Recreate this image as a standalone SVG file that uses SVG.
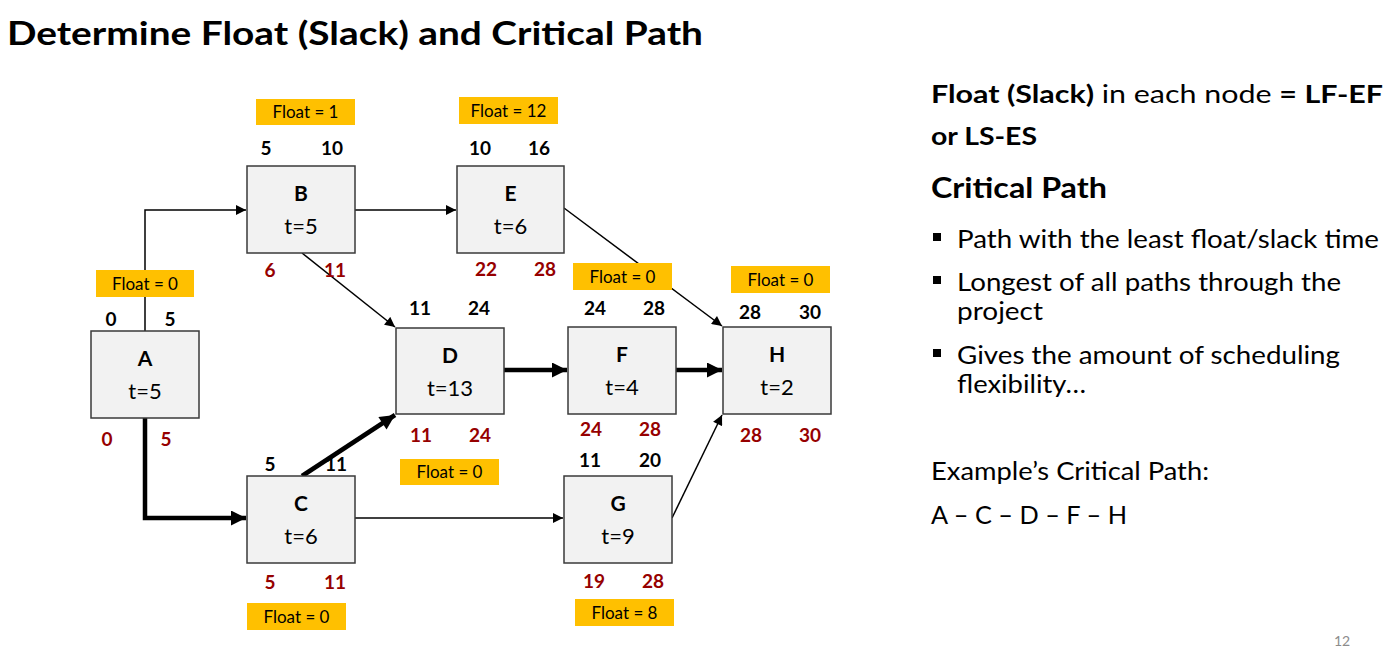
<svg xmlns="http://www.w3.org/2000/svg" width="1395" height="648" viewBox="0 0 1395 648">
<defs>
<marker id="ah" viewBox="0 0 10 10" refX="10" refY="5" markerWidth="11" markerHeight="10" markerUnits="userSpaceOnUse" orient="auto"><path d="M0,0 L10,5 L0,10 z" fill="#000"/></marker>
<marker id="ahb" viewBox="0 0 10 10" refX="10" refY="5" markerWidth="17" markerHeight="15" markerUnits="userSpaceOnUse" orient="auto"><path d="M0,0 L10,5 L0,10 z" fill="#000"/></marker>
</defs>
<style>
text{font-family:Lato,"Liberation Sans",sans-serif}
.box{fill:#f2f2f2;stroke:#3a3a3a;stroke-width:1.5}
.nm{font-size:21px;font-weight:bold;text-anchor:middle;fill:#000}
.t{font-size:22px;text-anchor:middle;fill:#000}
.es{font-size:19px;font-weight:bold;text-anchor:middle;fill:#000}
.lf{font-size:19px;font-weight:bold;text-anchor:middle;fill:#960000}
.fl{fill:#ffc000}
.flt{font-size:17px;text-anchor:middle;fill:#000}
.thin{stroke:#000;stroke-width:1.5;fill:none;marker-end:url(#ah)}
.thick{stroke:#000;stroke-width:4.5;fill:none;marker-end:url(#ahb)}
.rt{font-size:25px;fill:#000}
</style>
<rect width="1395" height="648" fill="#fff"/>
<text x="7" y="45" font-size="32" font-weight="bold" textLength="696" lengthAdjust="spacingAndGlyphs">Determine Float (Slack) and Critical Path</text>

<g id="connectors">
<path class="thin" d="M145,331 V210 H246"/>
<path class="thin" d="M355,210 H456"/>
<path class="thin" d="M302,253 L395,327"/>
<path class="thin" d="M564,208 L722,326"/>
<path class="thick" d="M145,417 V518 H246"/>
<path class="thick" d="M302,476 L395,415"/>
<path class="thick" d="M504,370 H567"/>
<path class="thick" d="M676,370 H722"/>
<path class="thin" d="M355,518 H563"/>
<path class="thin" d="M672,518 L722,415"/>
</g>

<g id="node-A">
<rect class="fl" x="96" y="270" width="98" height="27"/><text class="flt" x="145" y="290">Float = 0</text>
<rect class="box" x="91" y="331" width="108" height="87"/>
<text class="nm" x="145" y="366">A</text><text class="t" x="145" y="399">t=5</text>
<text class="es" x="111" y="326">0</text><text class="es" x="170" y="326">5</text>
<text class="lf" x="107" y="446">0</text><text class="lf" x="166" y="446">5</text>
</g>
<g id="node-B">
<rect class="fl" x="256" y="99" width="99" height="26"/><text class="flt" x="305.5" y="118">Float = 1</text>
<rect class="box" x="247" y="166" width="108" height="87"/>
<text class="nm" x="301" y="201">B</text><text class="t" x="301" y="234">t=5</text>
<text class="es" x="266" y="155">5</text><text class="es" x="332" y="155">10</text>
<text class="lf" x="270" y="277">6</text><text class="lf" x="335" y="277">11</text>
</g>
<g id="node-E">
<rect class="fl" x="459" y="97" width="99" height="27"/><text class="flt" x="508.5" y="117">Float = 12</text>
<rect class="box" x="457" y="166" width="107" height="87"/>
<text class="nm" x="510.5" y="201">E</text><text class="t" x="510.5" y="234">t=6</text>
<text class="es" x="480" y="155">10</text><text class="es" x="539" y="155">16</text>
<text class="lf" x="486" y="276">22</text><text class="lf" x="545" y="276">28</text>
</g>
<g id="node-D">
<rect class="box" x="396" y="328" width="108" height="86"/>
<text class="nm" x="450" y="363">D</text><text class="t" x="450" y="396">t=13</text>
<text class="es" x="420" y="315">11</text><text class="es" x="479" y="315">24</text>
<text class="lf" x="421" y="442">11</text><text class="lf" x="480" y="442">24</text>
<rect class="fl" x="400" y="459" width="99" height="26"/><text class="flt" x="449.5" y="478">Float = 0</text>
</g>
<g id="node-F">
<rect class="fl" x="573" y="263" width="99" height="27"/><text class="flt" x="622.5" y="283">Float = 0</text>
<rect class="box" x="568" y="327" width="108" height="87"/>
<text class="nm" x="622" y="362">F</text><text class="t" x="622" y="395">t=4</text>
<text class="es" x="595" y="315">24</text><text class="es" x="654" y="315">28</text>
<text class="lf" x="591" y="436">24</text><text class="lf" x="650" y="436">28</text>
</g>
<g id="node-H">
<rect class="fl" x="731" y="266" width="99" height="27"/><text class="flt" x="780.5" y="286">Float = 0</text>
<rect class="box" x="723" y="327" width="108" height="87"/>
<text class="nm" x="777" y="362">H</text><text class="t" x="777" y="395">t=2</text>
<text class="es" x="750" y="319">28</text><text class="es" x="810" y="319">30</text>
<text class="lf" x="751" y="442">28</text><text class="lf" x="810" y="442">30</text>
</g>
<g id="node-C">
<rect class="box" x="247" y="476" width="108" height="87"/>
<text class="nm" x="301" y="511">C</text><text class="t" x="301" y="544">t=6</text>
<text class="es" x="270" y="471">5</text><text class="es" x="336" y="471">11</text>
<text class="lf" x="270" y="589">5</text><text class="lf" x="335" y="589">11</text>
<rect class="fl" x="247" y="603" width="99" height="27"/><text class="flt" x="296.5" y="623">Float = 0</text>
</g>
<g id="node-G">
<rect class="box" x="564" y="476" width="108" height="87"/>
<text class="nm" x="618" y="511">G</text><text class="t" x="618" y="544">t=9</text>
<text class="es" x="590" y="467">11</text><text class="es" x="650" y="467">20</text>
<text class="lf" x="594" y="588">19</text><text class="lf" x="653" y="588">28</text>
<rect class="fl" x="575" y="599" width="99" height="27"/><text class="flt" x="624.5" y="619">Float = 8</text>
</g>

<g id="notes">
<text class="rt" x="931" y="103" textLength="452" lengthAdjust="spacingAndGlyphs"><tspan font-weight="bold">Float (Slack)</tspan> in each node <tspan font-weight="bold">= LF-EF</tspan></text>
<text class="rt" x="931" y="145" font-weight="bold" textLength="106" lengthAdjust="spacingAndGlyphs">or LS-ES</text>
<text x="931" y="198" font-size="28" font-weight="bold" textLength="176" lengthAdjust="spacingAndGlyphs">Critical Path</text>
<rect x="933" y="233" width="8" height="8" fill="#000"/>
<text class="rt" x="957" y="248" textLength="422" lengthAdjust="spacingAndGlyphs">Path with the least float/slack time</text>
<rect x="933" y="276" width="8" height="8" fill="#000"/>
<text class="rt" x="957" y="291" textLength="384" lengthAdjust="spacingAndGlyphs">Longest of all paths through the</text>
<text class="rt" x="957" y="320" textLength="86" lengthAdjust="spacingAndGlyphs">project</text>
<rect x="933" y="349" width="8" height="8" fill="#000"/>
<text class="rt" x="957" y="364" textLength="383" lengthAdjust="spacingAndGlyphs">Gives the amount of scheduling</text>
<text class="rt" x="957" y="393" textLength="129" lengthAdjust="spacingAndGlyphs">flexibility…</text>
<text class="rt" x="931" y="480" textLength="278" lengthAdjust="spacingAndGlyphs">Example’s Critical Path:</text>
<text class="rt" x="931" y="524" textLength="196" lengthAdjust="spacingAndGlyphs">A – C – D – F – H</text>
<text x="1334" y="646" font-size="14" fill="#8c8c8c">12</text>
</g>
</svg>
